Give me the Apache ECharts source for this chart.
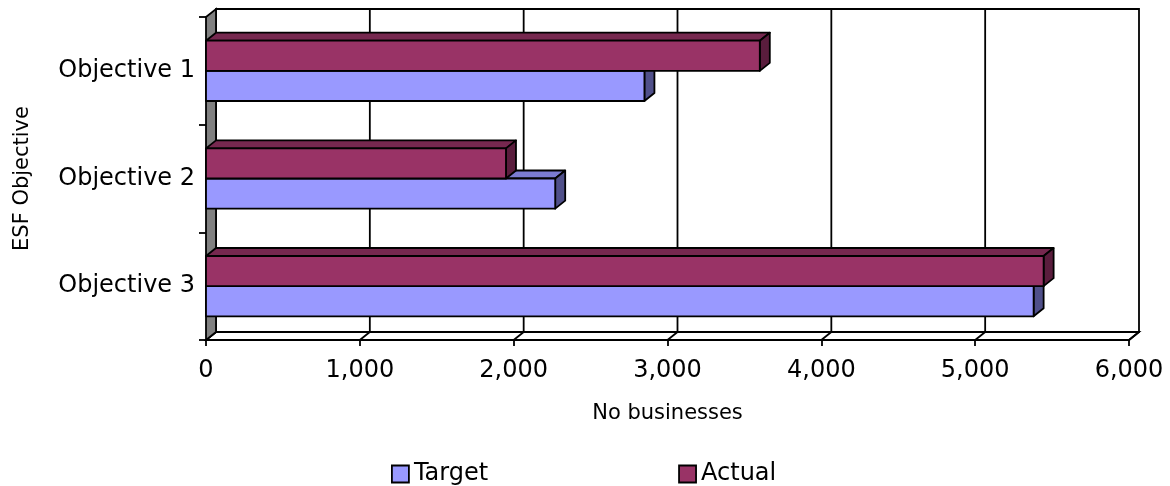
<!DOCTYPE html>
<html>
<head>
<meta charset="utf-8">
<script src="https://cdn.jsdelivr.net/npm/echarts@6/dist/echarts.min.js"></script>
<style>
  html, body { margin: 0; padding: 0; background: #ffffff; }
  #chart { width: 1170px; height: 486px; }
</style>
</head>
<body>
<div id="chart"></div>
<script>
// ESF objectives: businesses targeted vs. reached
const categories = ['Objective 1', 'Objective 2', 'Objective 3'];
const targetValues = [2850, 2270, 5380];
const actualValues = [3600, 1950, 5445];
const xTicks = [0, 1000, 2000, 3000, 4000, 5000, 6000];

// 3D look: depth offset of the box faces and walls
const DX = 10, DY = 8;
const LW = 1.8;
const FONT = 'DejaVu Sans, Verdana, sans-serif';

const faces = {
  Target: { front: '#9999FF', top: '#7B7BD1', side: '#50508A' },
  Actual: { front: '#993366', top: '#76284F', side: '#5A1D3D' }
};

function boxRenderer(name, upper) {
  const f = faces[name];
  return function (params, api) {
    const cat = api.value(1);
    const start = api.coord([0, cat]);
    const end = api.coord([api.value(0), cat]);
    const band = api.size([0, 1])[1];
    const h = band * 0.28;
    const y0 = upper ? start[1] - h : start[1];
    const y1 = y0 + h;
    const x0 = start[0], x1 = end[0];
    const stroke = { stroke: '#000', lineWidth: LW, lineJoin: 'round' };
    return {
      type: 'group',
      children: [
        { type: 'polygon', shape: { points: [[x0, y0], [x1, y0], [x1 + DX, y0 - DY], [x0 + DX, y0 - DY]] },
          style: Object.assign({ fill: f.top }, stroke) },
        { type: 'polygon', shape: { points: [[x1, y0], [x1 + DX, y0 - DY], [x1 + DX, y1 - DY], [x1, y1]] },
          style: Object.assign({ fill: f.side }, stroke) },
        { type: 'rect', shape: { x: x0, y: y0, width: x1 - x0, height: y1 - y0 },
          style: Object.assign({ fill: f.front }, stroke) }
      ]
    };
  };
}

// Back wall, left wall and floor of the plot box
function frameRenderer(params, api) {
  const cs = params.coordSys;
  const xl = cs.x, xr = cs.x + cs.width, yt = cs.y, yb = cs.y + cs.height;
  const line = { stroke: '#000', lineWidth: LW };
  const children = [];
  children.push({ type: 'rect', shape: { x: xl + DX, y: yt - DY, width: xr - xl, height: yb - yt },
    style: Object.assign({ fill: '#fff' }, line) });
  xTicks.forEach(function (t) {
    const x = api.coord([t, 0])[0];
    if (t > xTicks[0] && t < xTicks[xTicks.length - 1]) {
      children.push({ type: 'line', shape: { x1: x + DX, y1: yt - DY, x2: x + DX, y2: yb - DY }, style: line });
    }
  });
  children.push({ type: 'polygon', shape: { points: [[xl, yb], [xr, yb], [xr + DX, yb - DY], [xl + DX, yb - DY]] },
    style: Object.assign({ fill: '#fff' }, line) });
  xTicks.forEach(function (t) {
    const x = api.coord([t, 0])[0];
    children.push({ type: 'line', shape: { x1: x, y1: yb, x2: x + DX, y2: yb - DY }, style: line });
  });
  children.push({ type: 'polygon', shape: { points: [[xl, yt], [xl + DX, yt - DY], [xl + DX, yb - DY], [xl, yb]] },
    style: Object.assign({ fill: '#808080' }, line) });
  return { type: 'group', children: children };
}

const chart = echarts.init(document.getElementById('chart'), null, { renderer: 'canvas' });

chart.setOption({
  animation: false,
  backgroundColor: '#ffffff',
  textStyle: { fontFamily: FONT, color: '#000' },
  grid: { left: 206, right: 41, top: 17, bottom: 146, containLabel: false },
  legend: {
    data: [
      { name: 'Target', itemStyle: { color: faces.Target.front, borderColor: '#000', borderWidth: 1.8 } },
      { name: 'Actual', itemStyle: { color: faces.Actual.front, borderColor: '#000', borderWidth: 1.8 } }
    ],
    left: 391,
    top: 462,
    padding: 0,
    icon: 'rect',
    itemWidth: 17,
    itemHeight: 17,
    itemGap: 190,
    textStyle: { fontFamily: FONT, fontSize: 24, color: '#000' },
    selectedMode: false
  },
  xAxis: {
    type: 'value',
    min: xTicks[0],
    max: xTicks[xTicks.length - 1],
    interval: 1000,
    name: 'No businesses',
    nameLocation: 'middle',
    nameGap: 63,
    nameTextStyle: { fontFamily: FONT, fontSize: 21, color: '#000' },
    axisLine: { show: true, lineStyle: { color: '#000', width: LW } },
    axisTick: { show: true, length: 6, lineStyle: { color: '#000', width: LW } },
    axisLabel: {
      fontFamily: FONT, fontSize: 24, color: '#000', margin: 19,
      formatter: function (v) { return v.toLocaleString('en-US'); }
    },
    splitLine: { show: false }
  },
  yAxis: {
    type: 'category',
    data: categories,
    inverse: true,
    name: 'ESF Objective',
    nameLocation: 'middle',
    nameRotate: 90,
    nameGap: 173,
    nameTextStyle: { fontFamily: FONT, fontSize: 21, color: '#000' },
    axisLine: { show: false },
    axisTick: { show: true, length: 7, lineStyle: { color: '#000', width: LW } },
    axisLabel: { fontFamily: FONT, fontSize: 24, color: '#000', margin: 11 },
    splitLine: { show: false }
  },
  series: [
    {
      name: 'frame',
      type: 'custom',
      z: 1,
      silent: true,
      renderItem: frameRenderer,
      data: [[0, 0]]
    },
    {
      name: 'Target',
      type: 'custom',
      z: 2,
      itemStyle: { color: faces.Target.front },
      renderItem: boxRenderer('Target', false),
      encode: { x: 0, y: 1 },
      data: targetValues.map(function (v, i) { return [v, i]; })
    },
    {
      name: 'Actual',
      type: 'custom',
      z: 3,
      itemStyle: { color: faces.Actual.front },
      renderItem: boxRenderer('Actual', true),
      encode: { x: 0, y: 1 },
      data: actualValues.map(function (v, i) { return [v, i]; })
    }
  ]
});
</script>
</body>
</html>
